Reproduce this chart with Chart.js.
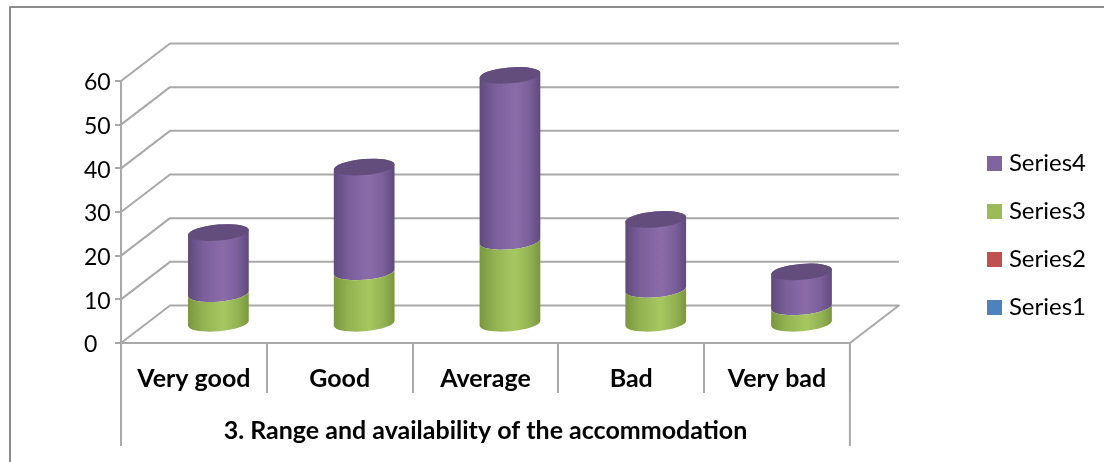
<!DOCTYPE html>
<html><head><meta charset="utf-8">
<style>html,body{margin:0;padding:0;background:#fff}#w{width:1104px;height:462px;position:relative}canvas{display:block;filter:blur(0.35px)}</style>
<script src="https://cdn.jsdelivr.net/npm/chart.js@4"></script>
</head><body><div id="w"><canvas id="c" width="1104" height="462"></canvas></div>
<script>
const categories = ["Very good","Good","Average","Bad","Very bad"];
const series1 = [0,0,0,0,0];
const series2 = [0,0,0,0,0];
const series3 = [7,12,19,8,4];
const series4 = [14,24,38,16,8];
const axisTitle = "3. Range and availability of the accommodation";
const yMax = 60, yStep = 10;

const FONT = "Lato, Carlito, sans-serif";
const GRID = "#a9a9a9";
const DX = 49, DY = 37.5;   // depth of the 3D box
const RY = 8, TILT = -0.085;
const PAL = {
  "#9BBB59": {e:"#7a963f", s:"#93b353", m:"#a6c760", cap:null},
  "#8064A2": {e:"#5f4a7b", s:"#7a5f9b", m:"#8a6ca9", cap:"#624d7c"}
};

// stacked cylinders: geometry comes from the bar element that Chart.js computed
Chart.BarElement.prototype.draw = function(ctx){
  const p = this.getProps(["x","y","base","width"]);
  if (Math.abs(p.base - p.y) < 0.5) return;
  const cx = p.x + DX/2, top = p.y - DY/2, bot = p.base - DY/2, rx = p.width/2;
  const c = PAL[this.options.backgroundColor];
  const g = ctx.createLinearGradient(cx-rx,0,cx+rx,0);
  g.addColorStop(0,c.e); g.addColorStop(0.25,c.s); g.addColorStop(0.58,c.m); g.addColorStop(0.82,c.s); g.addColorStop(1,c.e);
  ctx.save();
  ctx.fillStyle = g;
  ctx.beginPath();
  ctx.ellipse(cx,bot,rx,RY,TILT,0,Math.PI,false);
  if (c.cap) ctx.ellipse(cx,top,rx,RY,TILT,Math.PI,Math.PI*2,false);
  else ctx.ellipse(cx,top,rx,RY,TILT,Math.PI,0,true);
  ctx.closePath(); ctx.fill();
  if (c.cap){
    ctx.fillStyle = c.cap;
    ctx.beginPath(); ctx.ellipse(cx,top,rx,RY,TILT,0,Math.PI*2); ctx.fill();
  }
  ctx.restore();
};

const box3d = {
  id:"box3d",
  afterLayout(chart){
    const l = chart.legend, pad = l.options.labels.padding;
    l.left = 987 - pad; l.right = 1086;
    l.top = 151.5 - pad; l.bottom = l.top + l.height;
  },
  beforeDatasetsDraw(chart){
    const {ctx,scales:{x,y},chartArea:a} = chart;
    ctx.save();
    ctx.strokeStyle = GRID; ctx.lineWidth = 2; ctx.lineJoin="round";
    for (let v = 0; v <= yMax; v += yStep){
      const py = y.getPixelForValue(v);
      ctx.beginPath(); ctx.moveTo(a.left,py);
      ctx.lineTo(a.left+DX,py-DY); ctx.lineTo(a.right+DX,py-DY);
      if (v===0) ctx.lineTo(a.right,py);
      ctx.stroke();
    }
    // outer axis brackets for the two-level category axis
    ctx.beginPath();
    ctx.moveTo(a.left,y.top); ctx.lineTo(a.left,446);
    ctx.moveTo(a.right,a.bottom); ctx.lineTo(a.right,446);
    ctx.moveTo(a.left-6,a.bottom); ctx.lineTo(a.right,a.bottom);
    ctx.stroke();
    // frame
    ctx.strokeStyle="#8c8c8c"; ctx.lineWidth=2;
    ctx.beginPath(); ctx.moveTo(10,462); ctx.lineTo(10,7); ctx.lineTo(1104,7); ctx.stroke();
    ctx.restore();
  }
};

new Chart(document.getElementById("c"),{
  type:"bar",
  data:{labels:categories,datasets:[
    {label:"Series1",data:series1,backgroundColor:"#4F81BD",clip:false},
    {label:"Series2",data:series2,backgroundColor:"#C0504D",clip:false},
    {label:"Series3",data:series3,backgroundColor:"#9BBB59",clip:false},
    {label:"Series4",data:series4,backgroundColor:"#8064A2",clip:false}
  ]},
  plugins:[box3d],
  options:{
    responsive:false,animation:false,
    layout:{padding:{left:84,right:116,top:81,bottom:8}},
    datasets:{bar:{categoryPercentage:1,barPercentage:0.418}},
    plugins:{
      tooltip:{enabled:false},
      title:{display:false},
      legend:{
        display:true,position:"right",align:"start",reverse:true,
        labels:{boxWidth:15,boxHeight:15,padding:24,textAlign:"right",color:"#000",font:{family:FONT,size:24}}
      }
    },
    scales:{
      x:{stacked:true,
        afterFit(s){s.height=111;},
        grid:{drawOnChartArea:false,offset:true,color:GRID,lineWidth:2,tickLength:50,drawTicks:true},
        border:{display:false},
        ticks:{color:"#000",padding:-29,font:{family:FONT,size:25,weight:"bold"},maxRotation:0},
        title:{display:true,text:axisTitle,color:"#000",font:{family:FONT,size:25,weight:"bold"},padding:{top:0,bottom:8}}
      },
      y:{stacked:true,min:0,max:yMax,
        afterFit(s){s.width=37;},
        grid:{drawOnChartArea:false,color:GRID,lineWidth:2,tickLength:6},
        border:{display:false},
        ticks:{stepSize:yStep,color:"#000",crossAlign:"far",padding:6,labelOffset:2,font:{family:FONT,size:23}}
      }
    }
  }
});
</script></body></html>
